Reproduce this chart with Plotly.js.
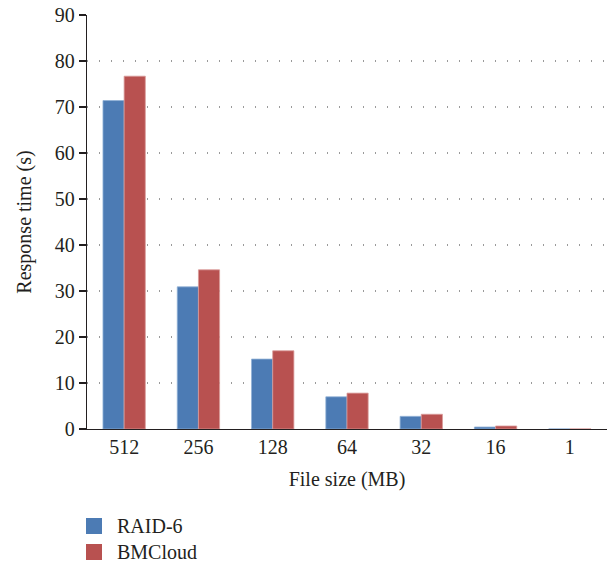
<!DOCTYPE html>
<html>
<head>
<meta charset="utf-8">
<script src="https://cdn.plot.ly/plotly-3.0.1.min.js"></script>
<style>
  html, body { margin: 0; padding: 0; background: #fff; }
  #chart { width: 612px; height: 563px; }
</style>
</head>
<body>
<div id="chart"></div>
<script>
// File sizes tested (MB) and measured response times (s)
const fileSizes = ['512', '256', '128', '64', '32', '16', '1'];
const raid6Times = [71.4, 30.9, 15.2, 7.0, 2.75, 0.43, 0.01];
const bmcloudTimes = [76.7, 34.6, 17.0, 7.8, 3.2, 0.65, 0.01];
const seriesNames = ['RAID-6', 'BMCloud'];
const seriesColors = ['#4c7bb4', '#b85150'];
const seriesEdges = ['#8fb0d6', '#d99a99'];
const yTicks = [0, 10, 20, 30, 40, 50, 60, 70, 80, 90];

const serif = '"Liberation Serif", "DejaVu Serif", serif';
const ink = '#231f20';
const fs = 20;

const W = 612, H = 563;
const margin = { l: 87, r: 5, t: 15, b: 134 };
const plotW = W - margin.l - margin.r;
const plotH = H - margin.t - margin.b;
// pixel -> paper helpers for the legend drawn below the axes
const px = x => (x - margin.l) / plotW;
const py = y => (H - margin.b - y) / plotH;

const traces = [raid6Times, bmcloudTimes].map((vals, i) => ({
  type: 'bar',
  name: seriesNames[i],
  x: fileSizes,
  y: vals,
  marker: { color: seriesColors[i], line: { color: seriesEdges[i], width: 0.8 } }
}));

// Legend: colour swatch + label per series, stacked under the chart
const legendShapes = [];
const legendNotes = [];
seriesNames.forEach((name, i) => {
  const top = 518 + i * 26;
  legendShapes.push({
    type: 'rect', xref: 'paper', yref: 'paper',
    x0: px(86), x1: px(102), y0: py(top), y1: py(top + 16),
    fillcolor: seriesColors[i], line: { width: 0 }
  });
  legendNotes.push({
    xref: 'paper', yref: 'paper',
    x: px(116), y: py(top + 8),
    xanchor: 'left', yanchor: 'middle',
    borderpad: 0,
    text: name, showarrow: false,
    font: { family: serif, size: fs, color: ink }
  });
});

const layout = {
  width: W,
  height: H,
  margin: margin,
  paper_bgcolor: '#fff',
  plot_bgcolor: '#fff',
  barmode: 'group',
  bargap: 0.43,
  bargroupgap: 0,
  showlegend: false,
  font: { family: serif, size: fs, color: ink },
  xaxis: {
    type: 'category',
    automargin: false,
    showline: true,
    linecolor: ink,
    linewidth: 1.2,
    ticks: '',
    showgrid: false,
    tickfont: { family: serif, size: fs, color: ink },
    title: { text: 'File size (MB)', font: { family: serif, size: fs, color: ink }, standoff: 14 }
  },
  yaxis: {
    range: [0, 90],
    automargin: false,
    tickvals: yTicks,
    showline: true,
    linecolor: ink,
    linewidth: 1.2,
    ticks: 'outside',
    ticklen: 7,
    tickcolor: ink,
    tickwidth: 1.2,
    showgrid: true,
    gridcolor: '#9a9a9a',
    gridwidth: 1.2,
    griddash: '1px,11px',
    zeroline: false,
    tickfont: { family: serif, size: fs, color: ink },
    title: { text: 'Response time (s)', font: { family: serif, size: fs, color: ink }, standoff: 17 }
  },
  shapes: legendShapes,
  annotations: legendNotes
};

Plotly.newPlot('chart', traces, layout, { displayModeBar: false, staticPlot: true });
</script>
</body>
</html>
